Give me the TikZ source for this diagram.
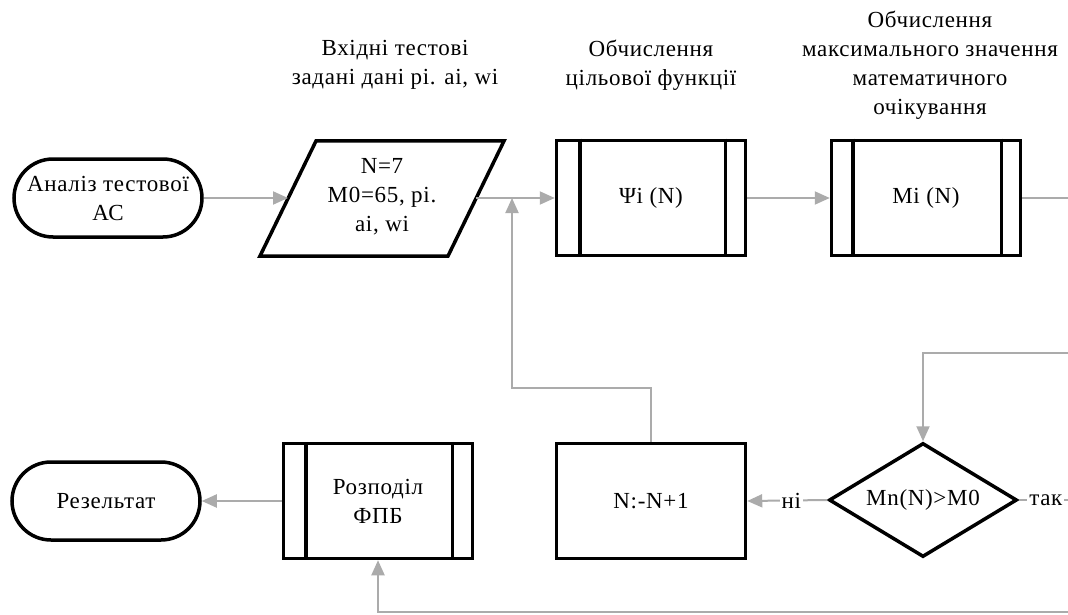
\documentclass[tikz,border=0pt]{standalone}
\usepackage{fontspec}
\setmainfont{Liberation Serif}[LetterSpace=3]
\usetikzlibrary{arrows.meta,shapes.geometric,shapes.misc}
\definecolor{conn}{HTML}{ABABAB}
\tikzset{
  txt/.style={font=\fontsize{23}{29}\selectfont, align=center, inner sep=0pt},
  shapeline/.style={draw=black, line width=3.5pt, fill=white},
  term/.style={shapeline, rounded rectangle, minimum width=188pt, minimum height=78pt, txt},
  procbox/.style={shapeline, rectangle, minimum width=189pt, minimum height=115pt, txt},
  decis/.style={shapeline, diamond, minimum width=188pt, minimum height=114pt, aspect=1.65, txt},
  conn/.style={draw=conn, line width=2pt},
  arr/.style={conn, -{Triangle[length=15pt,width=13pt]}, line join=miter},
  edgelabel/.style={txt, fill=white, inner xsep=2pt}
}
\begin{document}
\begin{tikzpicture}[x=1pt,y=-1pt]
\useasboundingbox (0,0) rectangle (1068,615);
% ---- top row
\node[term] (start) at (108,198) {Аналіз тестової\\АС};
% parallelogram
\coordinate (ptl) at (316,141);
\coordinate (ptr) at (504,141);
\coordinate (pbr) at (448,256);
\coordinate (pbl) at (260,256);
\filldraw[shapeline, line join=miter] (ptl) -- (ptr) -- (pbr) -- (pbl) -- cycle;
\node[txt] (input) at (382,197) {N=7\\M0=65, pi.\\ai, wi};
\coordinate (inL) at (288,198);
\coordinate (inR) at (476,198);
\node[txt] (inlabel) at (395,65) {Вхідні тестові\\задані дані pi. ai, wi};

\node[procbox] (psi) at (651,198) {Ψi (N)};
\draw[line width=3.5pt] ([xshift=25pt]psi.north west) -- ([xshift=25pt]psi.south west);
\draw[line width=3.5pt] ([xshift=-22pt]psi.north east) -- ([xshift=-22pt]psi.south east);
\node[txt] (psilabel) at (651,65) {Обчислення\\цільової функції};

\node[procbox] (mi) at (926,198) {Mi (N)};
\draw[line width=3.5pt] ([xshift=23pt]mi.north west) -- ([xshift=23pt]mi.south west);
\draw[line width=3.5pt] ([xshift=-21pt]mi.north east) -- ([xshift=-21pt]mi.south east);
\node[txt] (milabel) at (930,65) {Обчислення\\максимального значення\\математичного\\очікування};

% ---- bottom row
\node[term] (res) at (106,501) {Резельтат};
\node[procbox] (fpb) at (378,501) {Розподіл\\ФПБ};
\draw[line width=3.5pt] ([xshift=24pt]fpb.north west) -- ([xshift=24pt]fpb.south west);
\draw[line width=3.5pt] ([xshift=-22pt]fpb.north east) -- ([xshift=-22pt]fpb.south east);
\node[procbox] (inc) at (651,501) {N:-N+1};
\node[decis] (dec) at (923,500) {Mn(N)>M0};

% ---- edge coordinates
\coordinate (eTop) at (1068,198);
\coordinate (eMid) at (1068,353);
\coordinate (eDec) at (1068,500);
\coordinate (eBot) at (1068,612);
\coordinate (loopUp) at (512,198);

% ---- connectors
\draw[arr] (start.east) -- (inL);
\draw[arr] (inR) -- (psi.west);
\draw[arr] (psi.east) -- (mi.west);
\draw[conn] (mi.east) -- (eTop);
\draw[arr] (eMid) -| (dec.north);
\draw[conn] (dec.east) -- node[edgelabel, pos=0.55] (yes) {так} (eDec);
\draw[arr] (dec.west) -- node[edgelabel, pos=0.45] (no) {ні} (inc.east);
\draw[arr] (inc.north) |- (512,388) -- (loopUp);
\draw[arr] (eBot) -| (fpb.south);
\draw[arr] (fpb.west) -- (res.east);
\end{tikzpicture}
\end{document}
